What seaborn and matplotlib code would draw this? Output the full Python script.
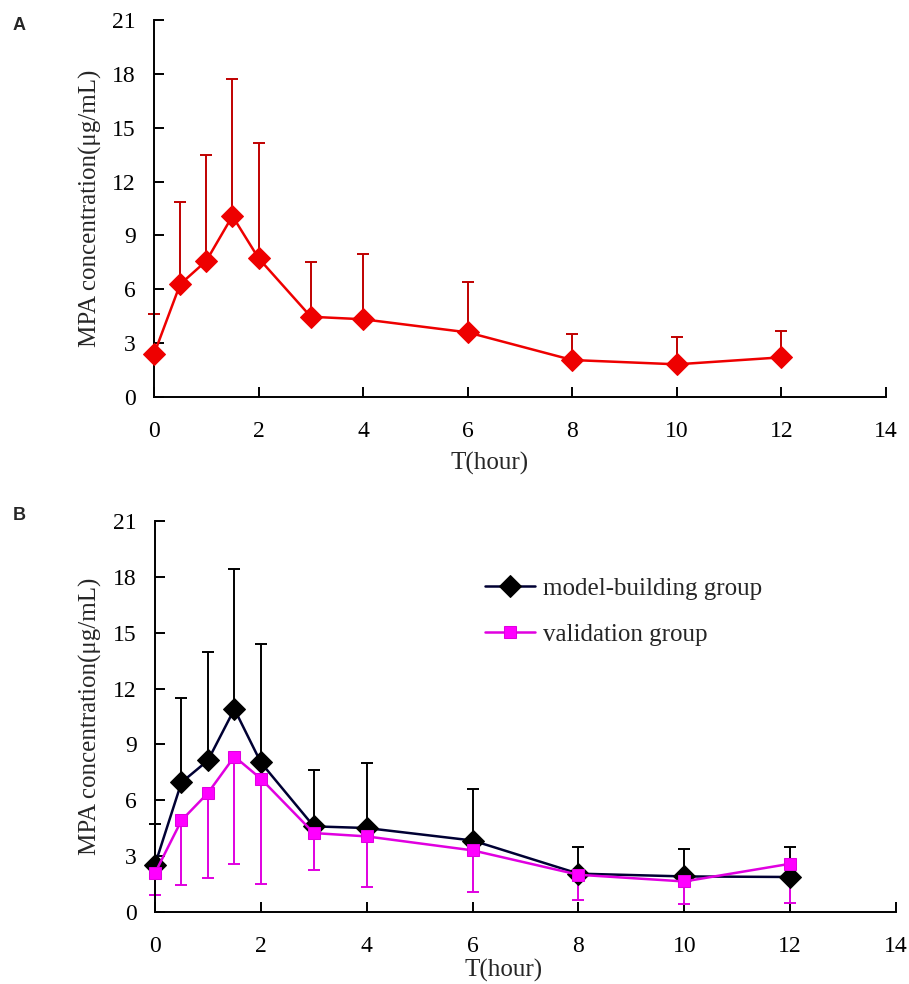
import numpy as np
import pandas as pd
import matplotlib
matplotlib.use("Agg")
import matplotlib.pyplot as plt
import seaborn as sns

# ---------------- data ----------------
time_h = [0, 0.5, 1, 1.5, 2, 3, 4, 6, 8, 10, 12]

# Panel A: all patients
conc_all = [2.38, 6.28, 7.58, 10.08, 7.73, 4.47, 4.33, 3.60, 2.06, 1.82, 2.21]
sd_all = [2.24, 4.58, 5.90, 7.62, 6.44, 3.05, 3.62, 2.81, 1.45, 1.50, 1.48]

# Panel B: model-building group (upper error bars)
conc_model = [2.54, 6.96, 8.14, 10.90, 8.03, 4.60, 4.51, 3.84, 2.06, 1.91, 1.88]
sd_model = [2.18, 4.51, 5.85, 7.53, 6.36, 3.04, 3.49, 2.76, 1.41, 1.47, 1.59]

# Panel B: validation group (lower error bars)
conc_valid = [2.09, 4.92, 6.39, 8.35, 7.16, 4.24, 4.06, 3.31, 2.00, 1.64, 2.59]
sd_valid = [1.16, 3.45, 4.57, 5.76, 5.66, 1.97, 2.72, 2.26, 1.34, 1.19, 2.11]

x_ticks = [0, 2, 4, 6, 8, 10, 12, 14]
y_ticks = [0, 3, 6, 9, 12, 15, 18, 21]
x_label = "T(hour)"
y_label = "MPA concentration(\u03bcg/mL)"
series_labels = ["model-building group", "validation group"]
panel_labels = ["A", "B"]

# ---------------- style ----------------
sns.set_style("ticks")
plt.rcParams["font.family"] = ["Liberation Serif", "DejaVu Serif"]
plt.rcParams["mathtext.default"] = "regular"

fig = plt.figure(figsize=(9.09, 9.84), dpi=100)
W, H = 909, 984


def add_axes(left, top, right, bottom):
    return fig.add_axes([left / W, 1 - bottom / H, (right - left) / W, (bottom - top) / H])


axA = add_axes(154, 20, 886, 397)
axB = add_axes(155, 521, 896, 912)

dfA = pd.DataFrame({"time": time_h, "conc": conc_all, "sd": sd_all})
dfM = pd.DataFrame({"time": time_h, "conc": conc_model, "sd": sd_model})
dfV = pd.DataFrame({"time": time_h, "conc": conc_valid, "sd": sd_valid})


def style_axes(ax, xlabel_pos, xlabel_y):
    ax.set_xlim(0, 14)
    ax.set_ylim(0, 21)
    ax.set_xticks(x_ticks)
    ax.set_yticks(y_ticks)
    ax.set_xticklabels([str(v) for v in x_ticks])
    ax.set_yticklabels([str(v) for v in y_ticks])
    for s in ["top", "right"]:
        ax.spines[s].set_visible(False)
    for s in ["left", "bottom"]:
        ax.spines[s].set_linewidth(1.4)
        ax.spines[s].set_color("black")
    ax.tick_params(axis="both", direction="in", length=7, width=1.4,
                   labelsize=17, colors="black")
    ax.tick_params(axis="x", pad=17)
    ax.tick_params(axis="y", pad=13)
    ax.set_xlabel(x_label, fontsize=18)
    ax.xaxis.set_label_coords(xlabel_pos, xlabel_y)
    ax.set_ylabel(y_label, fontsize=18)
    ax.yaxis.set_label_coords(-0.071, 0.5)
    ax.grid(False)


# Panel A
zeros = np.zeros(len(time_h))
axA.errorbar(dfA["time"], dfA["conc"], yerr=[zeros, dfA["sd"]], fmt="none",
             ecolor="#c00000", elinewidth=1.4, capsize=4, capthick=1.4,
             zorder=2, clip_on=False)
sns.lineplot(data=dfA, x="time", y="conc", ax=axA, color="#ee0000",
             marker="D", markersize=11, markeredgecolor="#ee0000",
             linewidth=1.8, zorder=3, clip_on=False, errorbar=None)
style_axes(axA, 0.459, -0.146)

# Panel B
axB.errorbar(dfM["time"], dfM["conc"], yerr=[zeros, dfM["sd"]], fmt="none",
             ecolor="black", elinewidth=1.4, capsize=4, capthick=1.4,
             zorder=2, clip_on=False)
axB.errorbar(dfV["time"], dfV["conc"], yerr=[dfV["sd"], zeros], fmt="none",
             ecolor="#e000e0", elinewidth=1.4, capsize=4, capthick=1.4,
             zorder=2, clip_on=False)
sns.lineplot(data=dfM, x="time", y="conc", ax=axB, color="#000033",
             marker="D", markersize=11, markerfacecolor="black",
             markeredgecolor="black", linewidth=1.8, zorder=3,
             clip_on=False, errorbar=None, label=series_labels[0])
sns.lineplot(data=dfV, x="time", y="conc", ax=axB, color="#e000e0",
             marker="s", markersize=9, markerfacecolor="#ff00ff",
             markeredgecolor="#e000e0", linewidth=1.8, zorder=4,
             clip_on=False, errorbar=None, label=series_labels[1])
style_axes(axB, 0.47, -0.121)
leg = axB.legend(loc="upper left", bbox_to_anchor=(0.428, 0.888), frameon=False,
                 fontsize=18, handlelength=2.0, handletextpad=0.35,
                 labelspacing=0.95, borderpad=0)

fig.text(13 / W, 1 - 25 / H, panel_labels[0], fontsize=13, fontweight="bold",
         family=["Liberation Sans", "DejaVu Sans"], va="center", ha="left")
fig.text(13 / W, 1 - 516 / H, panel_labels[1], fontsize=13, fontweight="bold",
         family=["Liberation Sans", "DejaVu Sans"], va="center", ha="left")

fig.savefig("out.png", dpi=100, facecolor="white")
